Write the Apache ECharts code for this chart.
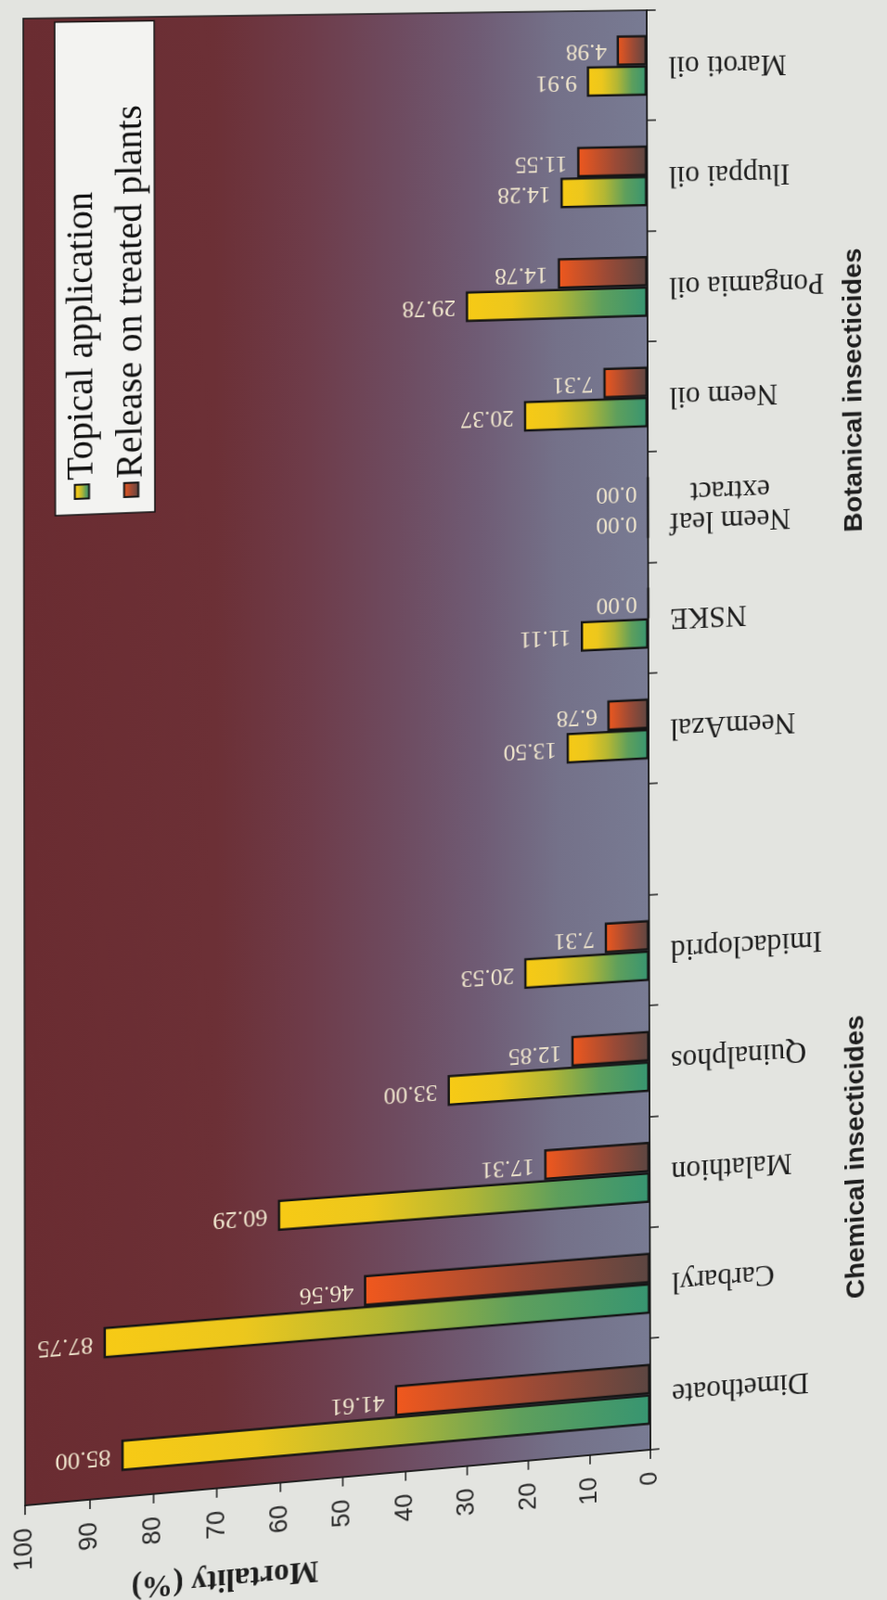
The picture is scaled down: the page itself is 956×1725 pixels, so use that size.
<!DOCTYPE html>
<html>
<head>
<meta charset="utf-8">
<title>Mortality (%) – chemical and botanical insecticides</title>
<script src="https://cdn.jsdelivr.net/npm/echarts@6/dist/echarts.min.js"></script>
<style>
  html, body { margin: 0; padding: 0; width: 956px; height: 1725px; overflow: hidden; background: #e3e4e0; }
  #chart { position: absolute; left: 0; top: 0; width: 1725px; height: 956px; transform-origin: 0 0; }
</style>
</head>
<body>
<div id="chart"></div>
<script>
// Treatments along the category axis (one empty slot separates the two groups)
const categories = ['Dimethoate', 'Carbaryl', 'Malathion', 'Quinalphos', 'Imidacloprid', '',
  'NeemAzal', 'NSKE', 'Neem leaf\nextract', 'Neem oil', 'Pongamia oil', 'Iluppai oil', 'Maroti oil'];

// Mortality (%) per treatment
const topicalApplication = [85.00, 87.75, 60.29, 33.00, 20.53, '-', 13.50, 11.11, 0.00, 20.37, 29.78, 14.28, 9.91];
const releaseOnTreatedPlants = [41.61, 46.56, 17.31, 12.85, 7.31, '-', 6.78, 0.00, 0.00, 7.31, 14.78, 11.55, 4.98];

// Group captions written under the middle treatment of each group
const groupLabels = ['', '', 'Chemical insecticides', '', '', '', '', '', '', 'Botanical insecticides', '', '', ''];

const seriesNames = ['Topical application', 'Release on treated plants'];
const mortalityAxis = { min: 0, max: 100, interval: 10 };

// Layout of the (landscape) chart canvas
const W = 1725, H = 956;
const GRID = { left: 130, top: 27, right: 17, bottom: 255 };

// The printed figure sits turned on the page and slightly keystoned;
// the plot rectangle corners are carried onto the page quad below.
const pageQuad = {
  tl: [27, 1623],   // mortality 100, first treatment
  tr: [25, 20],     // mortality 100, last treatment
  br: [697, 11],    // mortality 0, last treatment
  bl: [701, 1563]   // mortality 0, first treatment
};

function solveHomography(src, dst) {
  const A = [], B = [];
  for (let i = 0; i < 4; i++) {
    const [X, Y] = src[i], [x, y] = dst[i];
    A.push([X, Y, 1, 0, 0, 0, -X * x, -Y * x]); B.push(x);
    A.push([0, 0, 0, X, Y, 1, -X * y, -Y * y]); B.push(y);
  }
  const n = 8;
  for (let c = 0; c < n; c++) {
    let p = c;
    for (let r = c + 1; r < n; r++) if (Math.abs(A[r][c]) > Math.abs(A[p][c])) p = r;
    [A[c], A[p]] = [A[p], A[c]]; [B[c], B[p]] = [B[p], B[c]];
    for (let r = 0; r < n; r++) {
      if (r === c) continue;
      const f = A[r][c] / A[c][c];
      for (let k = c; k < n; k++) A[r][k] -= f * A[c][k];
      B[r] -= f * B[c];
    }
  }
  return B.map((b, i) => b / A[i][i]);
}

const gx0 = GRID.left, gx1 = W - GRID.right, gy0 = GRID.top, gy1 = H - GRID.bottom;
const [a, b, c, d, e, f, g, h] = solveHomography(
  [[gx0, gy0], [gx1, gy0], [gx1, gy1], [gx0, gy1]],
  [pageQuad.tl, pageQuad.tr, pageQuad.br, pageQuad.bl]
);
const el = document.getElementById('chart');
el.style.transform = `matrix3d(${a},${d},0,${g},${b},${e},0,${h},0,0,1,0,${c},${f},0,1)`;

const SERIF = "'Liberation Serif', 'Times New Roman', serif";
const SANS = "'Liberation Sans', Arial, sans-serif";
const LG = echarts.graphic.LinearGradient;

const topicalFill = new LG(0, 1, 0, 0, [
  { offset: 0, color: '#379571' }, { offset: 0.25, color: '#5e9f5c' },
  { offset: 0.5, color: '#b5b733' }, { offset: 0.75, color: '#ecc71d' }, { offset: 1, color: '#f7ca15' }
]);
const releaseFill = new LG(0, 1, 0, 0, [
  { offset: 0, color: '#5c4642' }, { offset: 0.45, color: '#9a4a36' }, { offset: 1, color: '#f1581d' }
]);
const plotFill = new LG(0, 0, 0, 1, [
  { offset: 0, color: '#6a2c31' }, { offset: 0.3, color: '#6c3036' },
  { offset: 0.45, color: '#6e3c4a' }, { offset: 0.6, color: '#6e4c61' },
  { offset: 0.72, color: '#6f5b74' }, { offset: 0.85, color: '#747189' },
  { offset: 1, color: '#787b93' }
]);

const valueLabel = {
  show: true, position: 'top', rotate: 90, align: 'left', verticalAlign: 'middle',
  distance: 11, color: '#eee4cc', fontFamily: SERIF, fontSize: 26,
  formatter: p => Number(p.value).toFixed(2)
};

const catFont = { fontFamily: SERIF, fontSize: 33, color: '#1e1e1e' };

const chart = echarts.init(el, null, { renderer: 'canvas', width: W, height: H });
chart.setOption({
  animation: false,
  grid: {
    left: GRID.left, top: GRID.top, right: GRID.right, bottom: GRID.bottom,
    show: true, backgroundColor: plotFill, borderColor: '#1b1b1b', borderWidth: 1.5
  },
  legend: {
    orient: 'vertical', left: 1178, top: 60,
    padding: [8, 90, 5, 16], itemGap: 12, itemWidth: 15, itemHeight: 15,
    backgroundColor: '#f3f3f1', borderColor: '#151515', borderWidth: 1.5,
    icon: 'rect',
    textStyle: { fontFamily: SERIF, fontSize: 40, color: '#111' },
    data: seriesNames
  },
  xAxis: [
    {
      type: 'category', data: categories, position: 'bottom',
      axisLine: { show: true, lineStyle: { color: '#1b1b1b', width: 1.5 } },
      axisTick: { show: true, length: 10, lineStyle: { color: '#1b1b1b', width: 1.5 } },
      axisLabel: {
        interval: 0, rotate: 90, margin: 24, ...catFont,
        // two-line names keep their lines centred on each other
        formatter: v => v.indexOf('\n') < 0 ? v : v.split('\n').map(s => '{c|' + s + '}').join('\n'),
        rich: { c: { ...catFont, width: 136, align: 'center' } }
      }
    },
    {
      type: 'category', data: groupLabels, position: 'bottom',
      axisLine: { show: false }, axisTick: { show: false },
      axisLabel: { interval: 0, margin: 218, fontFamily: SANS, fontWeight: 'bold', fontSize: 30, color: '#1e1e1e' }
    }
  ],
  yAxis: {
    type: 'value', min: mortalityAxis.min, max: mortalityAxis.max, interval: mortalityAxis.interval,
    name: 'Mortality (%)', nameLocation: 'middle', nameGap: 76, nameRotate: 90,
    nameTextStyle: { fontFamily: SERIF, fontWeight: 'bold', fontSize: 33, color: '#1e1e1e', padding: [0, 0, 0, 252] },
    axisLine: { show: true, lineStyle: { color: '#1b1b1b', width: 1.5 } },
    axisTick: { show: true, length: 10, lineStyle: { color: '#1b1b1b', width: 1.5 } },
    splitLine: { show: false },
    axisLabel: { margin: 24, fontFamily: SANS, fontSize: 27, color: '#2b2b2b' }
  },
  series: [
    {
      name: seriesNames[0], type: 'bar', data: topicalApplication,
      barGap: '0%', barCategoryGap: '45%',
      itemStyle: { color: topicalFill, borderColor: '#151515', borderWidth: 2.5 },
      label: valueLabel
    },
    {
      name: seriesNames[1], type: 'bar', data: releaseOnTreatedPlants,
      barGap: '0%', barCategoryGap: '45%',
      itemStyle: { color: releaseFill, borderColor: '#151515', borderWidth: 2.5 },
      label: valueLabel
    }
  ]
});
</script>
</body>
</html>
